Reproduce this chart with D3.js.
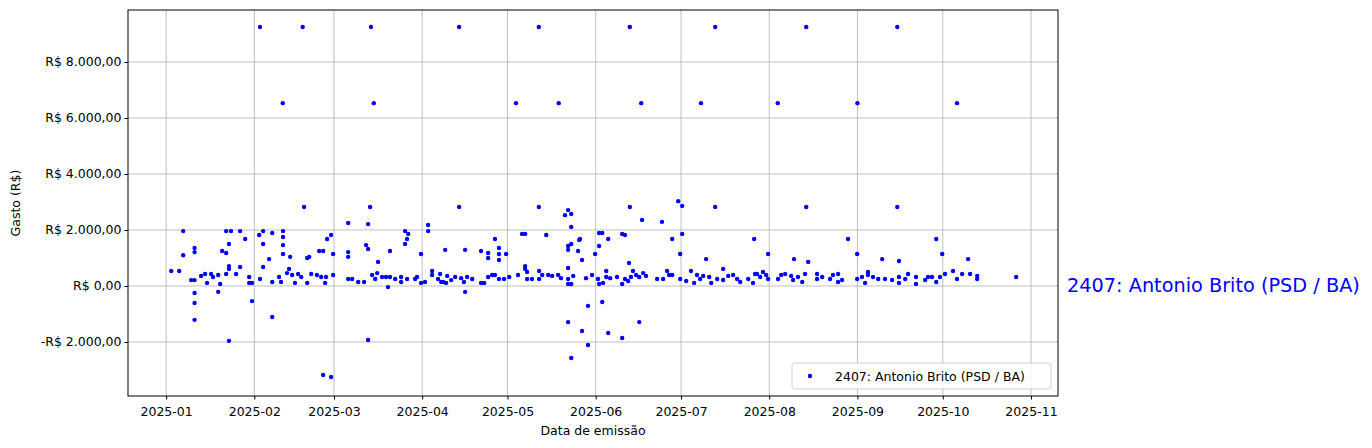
<!DOCTYPE html>
<html><head><meta charset="utf-8">
<script src="https://cdn.jsdelivr.net/npm/d3@7"></script>
<style>body{margin:0;background:#fff;font-family:"DejaVu Sans",sans-serif}</style>
</head><body><svg id="c" width="1372" height="448"></svg>
<script>
const serie = "2407: Antonio Brito (PSD / BA)";
const yTicks = [-2000,0,2000,4000,6000,8000];
const xTicks = ["2025-01","2025-02","2025-03","2025-04","2025-05","2025-06","2025-07","2025-08","2025-09","2025-10","2025-11"];
// [dias desde 2025-01-01, valor R$]
const pontos = [
[33,9250],[48,9250],[72,9250],[103,9250],[131,9250],[163,9250],[193,9250],[225,9250],[257,9250],
[41,6530],[73,6530],[123,6530],[138,6530],[167,6530],[188,6530],[215,6530],[243,6530],[278,6530],
[103,2820],[131,2820],[163,2820],[193,2820],[225,2820],[257,2820],
[1.8,535],[4.6,535],[8.8,210],[10,210],[6,1960],[6,1100],[10,1360],[10,1210],[10,-250],[10,-610],[10,-1210],[12.3,360],[13.7,430],[14.4,110],[15.8,430],[16.5,320],[18.3,390],[18.3,-210],[19,70],[19.7,1250],[21.1,1180],[21.1,430],[22.1,1500],[22.1,710],[22.1,610],[22.1,-1960],[21.1,1960],[22.8,1960],[24.6,430],[26,1960],[26,680],[27.8,1680],[29.2,320],[29.2,110],[30.2,110],[30.2,-540],[32.7,1820],[33,250],[34.1,1960],[34.1,1500],[34.1,680],[36.2,960],[37.3,1890],[37.3,140],[37.3,-1110],[39.7,320],[40.4,140],[41.1,1960],[41.1,1750],[41.1,1460],[41.1,1140],[42.5,460],[43.2,610],[43.6,1040],[44.3,390],[45.3,110],[46.4,430],[47.5,320],[48.5,2820],[49.6,1000],[50.3,1040],[49.6,110],[51,430],[53,390],[53.8,1250],[55.2,1250],[55.2,-3180],[54.5,320],[56.2,320],[55.9,110],[56.6,1680],[58,1820],[58,-3250],[58.7,1140],[58.7,390],[64,2250],[64,1210],[64,1040],[64,250],[65.4,250],[67.5,140],[69.6,140],[70.3,1460],[71,2210],[71,1320],[71,-1930],[71.7,2820],[72.4,390],[73.5,250],[74.2,460],[74.5,860],[75.9,320],[77.3,320],[78,-40],[78.7,1250],[78.7,320],[80.5,250],[82.6,320],[82.6,140],[84,1960],[84.7,1680],[84,1500],[85.1,1860],[84.7,250],[87.5,250],[88.2,320],[89.6,1140],[89.6,110],[91,140],[92.1,2180],[92.1,1960],[93.5,535],[93.5,390],[95.6,250],[96.7,140],[98.1,1290],[98.4,110],
[96.3,430],[97.4,140],[98.8,360],[100.2,210],[101.6,320],[103.7,280],[104.7,140],[105.1,1290],[105.1,-210],[105.8,320],[107.6,250],[110.7,1250],[110.7,110],[111.8,110],[113.2,1180],[113.2,1000],[113.2,320],[114.6,390],[115.6,1680],[115.6,390],[117,1360],[117,1140],[117,930],[117,250],[118.8,250],[119.5,1140],[120.6,320],[123.7,390],[125.1,1860],[126.2,1860],[126.2,710],[126.2,610],[126.9,500],[126.9,250],[128.6,250],[131.1,535],[131.1,250],[132.2,390],[133.6,1820],[134.3,390],[135.7,360],[137.8,390],[138.8,280],[140.2,2530],[141.3,2710],[142.4,2570],[142.4,2110],[141.3,1430],[141.3,1290],[142.4,1500],[141.3,640],[141.3,250],[141.3,70],[142.4,70],[143.1,360],[141.3,-1290],[142.4,-2570],[144.8,1250],[145.2,1640],[145.5,1680],[146.2,930],[146.2,-1610],[148.3,-710],[148.3,-2110],[147.6,280],[149.7,390],[150.8,1140],[151.8,250],[152.2,1890],[153.3,1890],[152.2,1430],[152.2,70],[153.3,-570],[153.6,110],[154.7,535],[154.7,320],[155.4,1680],[155.4,-1680],[156.1,280],[158.5,320],[160.3,1860],[161.3,1820],[160.3,70],[160.3,-1860],[161.3,250],[162.4,180],[162.7,820],[163.4,320],[164.1,535],[165.2,390],[166.3,-1290],[166.3,320],[167.3,2360],[167.7,460],[168.7,360],[172.6,250],[174.3,2290],[174.7,250],[176.1,535],[176.8,390],[177.9,1680],[177.9,390],[180,3030],[180.7,1140],[180.7,250],[181.4,2860],[181.4,1860],[182.8,180],[184.5,535],[185.6,110],[186.6,390],[187.7,250],[188.8,360],[189.8,960],[190.9,320],[191.6,110],[193.7,250],[195.8,610],[195.8,214],[197.6,360],[199.3,390],[200.7,250],[201.8,140],[204.6,250],[206.3,110],[206.7,1680],[207,430],
[207.7,430],[208.8,320],[209.8,500],[210.9,390],[211.6,1140],[211.6,250],[215.1,250],[216.2,390],[217.6,430],[219.7,360],[220.4,214],[220.7,960],[222.1,320],[223.6,140],[224.6,430],[225.7,860],[228.8,430],[228.8,250],[230.6,320],[233.4,250],[234.4,390],[236.2,430],[236.2,140],[237.6,214],[239.7,1680],[242.9,1140],[242.9,250],[244.6,320],[245.7,110],[246.7,500],[246.7,390],[248.5,320],[250.3,250],[251.7,960],[252.7,250],[255.2,214],[257.6,890],[257.6,320],[257.6,110],[259.8,250],[260.8,430],[263.6,320],[263.6,70],[266.8,214],[267.8,320],[269.2,320],[270.7,1680],[270.7,140],[272,320],[272.8,1140],[273.8,430],[276.6,535],[278,250],[279.8,430],[281.9,960],[282.6,430],[285.1,360],[285.1,250],[298.8,320]
];
const base = Date.UTC(2025,0,1);
const toDate = d => new Date(base + d*864e5);
const L=128,R=1058,T=10,B=396;
const x = d3.scaleUtc().domain([toDate(-13.4), toDate(313.5)]).range([L,R]);
const y = d3.scaleLinear().domain([-3929, 9857]).range([B,T]);
const svg = d3.select("#c");
const fmtNum = v => { const s = d3.format(",.2f")(Math.abs(v)).replace(/,/g,"#").replace(".",",").replace(/#/g,"."); return (v<0?"-":"")+"R$ "+s; };
const xt = xTicks.map(s => new Date(Date.UTC(+s.slice(0,4), +s.slice(5)-1, 1)));
const g = svg.append("g");
g.selectAll(".gx").data(xt).enter().append("line").attr("x1",d=>x(d)).attr("x2",d=>x(d)).attr("y1",T).attr("y2",B).attr("stroke","#b0b0b0").attr("stroke-width",0.8);
g.selectAll(".gy").data(yTicks).enter().append("line").attr("y1",d=>y(d)).attr("y2",d=>y(d)).attr("x1",L).attr("x2",R).attr("stroke","#b0b0b0").attr("stroke-width",0.8);
svg.append("g").selectAll("circle").data(pontos).enter().append("circle")
  .attr("cx",d=>x(toDate(d[0]))).attr("cy",d=>y(d[1])).attr("r",2.2).attr("fill","#0000ff");
const xa = svg.append("g").attr("transform",`translate(0,${B})`).call(d3.axisBottom(x).tickValues(xt).tickFormat((d,i)=>xTicks[i]).tickSize(3.5).tickSizeOuter(0));
const ya = svg.append("g").attr("transform",`translate(${L},0)`).call(d3.axisLeft(y).tickValues(yTicks).tickFormat(fmtNum).tickSize(3.5).tickSizeOuter(0));
[xa,ya].forEach(a=>{a.selectAll("text").attr("font-size",12.5).attr("fill","#000").style("font-family","DejaVu Sans");a.selectAll("line").attr("stroke","#000");a.select(".domain").remove();});
xa.selectAll("text").attr("dy","1.1em");
svg.append("rect").attr("x",L).attr("y",T).attr("width",R-L).attr("height",B-T).attr("fill","none").attr("stroke","#000").attr("stroke-width",1);
svg.append("text").attr("x",(L+R)/2).attr("y",435).attr("text-anchor","middle").attr("font-size",12.5).text("Data de emissão");
svg.append("text").attr("transform",`translate(20,${(T+B)/2}) rotate(-90)`).attr("text-anchor","middle").attr("font-size",12.5).text("Gasto (R$)");
svg.append("text").attr("x",1067).attr("y",292).attr("font-size",19.3).attr("fill","#0000ff").text(serie);
const lg = svg.append("g");
lg.append("rect").attr("x",792).attr("y",363).attr("width",259).attr("height",26).attr("rx",3).attr("fill","#fff").attr("fill-opacity",0.8).attr("stroke","#d0d0d0");
lg.append("circle").attr("cx",810).attr("cy",376).attr("r",2.2).attr("fill","#0000ff");
lg.append("text").attr("x",835).attr("y",381).attr("font-size",12.5).text(serie);
</script></body></html>
